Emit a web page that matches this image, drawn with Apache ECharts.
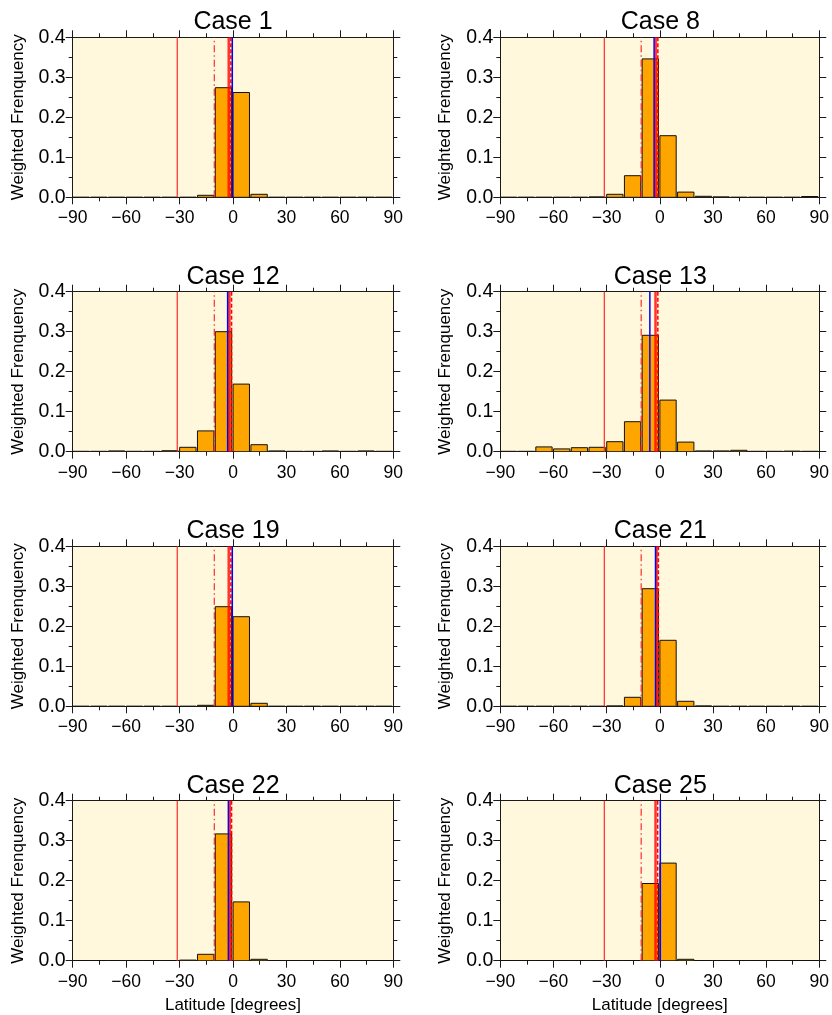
<!DOCTYPE html>
<html>
<head>
<meta charset="utf-8">
<script src="https://cdn.jsdelivr.net/npm/echarts@6/dist/echarts.min.js"></script>
<style>
html,body{margin:0;padding:0;background:#fff;}
#chart{width:832px;height:1015px;}
</style>
</head>
<body>
<div id="chart"></div>
<script>
// ---------------- DATA ----------------
const caseNames = ['Case 1','Case 8','Case 12','Case 13','Case 19','Case 21','Case 22','Case 25'];
const binStarts = [-90,-80,-70,-60,-50,-40,-30,-20,-10,0,10,20,30,40,50,60,70,80];
const binWidth = 10;
const freqCase1  = [0,0,0,0,0,0,0,0.005,0.274,0.262,0.0075,0,0,0,0,0,0,0];
const freqCase8  = [0,0,0,0,0,0.001,0.0075,0.054,0.346,0.154,0.013,0.0025,0.001,0,0,0,0,0.002];
const freqCase12 = [0.001,0.001,0.002,0.001,0.001,0.0025,0.011,0.052,0.300,0.169,0.0175,0.002,0.001,0.001,0.002,0.001,0.002,0.001];
const freqCase13 = [0.001,0.001,0.012,0.007,0.010,0.011,0.025,0.075,0.291,0.129,0.024,0.002,0.002,0.0035,0.001,0.001,0.0015,0.001];
const freqCase19 = [0,0,0,0,0,0,0,0.0025,0.249,0.224,0.0075,0,0,0,0,0,0,0];
const freqCase21 = [0,0,0,0,0,0,0.001,0.0225,0.294,0.165,0.0125,0.001,0,0,0,0,0,0];
const freqCase22 = [0,0,0,0,0,0,0.0015,0.016,0.317,0.147,0.0035,0,0,0,0,0,0,0];
const freqCase25 = [0,0,0,0,0,0,0,0,0.193,0.244,0.0035,0,0,0,0,0,0,0];
const allFreq = [freqCase1,freqCase8,freqCase12,freqCase13,freqCase19,freqCase21,freqCase22,freqCase25];
// reference vertical lines (latitude, degrees)
const refSolid   = -31.3;   // red solid
const refDashDot = -10.5;   // red dash-dot
const redSolid = [-2.4,-2.3,-2.0,-2.4,-2.4,-1.8,-1.8,-2.4];
const redDash  = [-1.2,-1.1,-0.8,-1.1,-1.2,-0.8,-0.8,-1.2];
const blueLine = [-0.4,-3.2,-3.0,-5.6,-0.4,-2.4,-2.6,0.3];
const xTicks = [-90,-60,-30,0,30,60,90];
const yTicks = [0,0.1,0.2,0.3,0.4];
const yName = 'Weighted Frenquency';
const xName = 'Latitude [degrees]';

// ---------------- LAYOUT ----------------
const colLeft = [72.7, 500.3];
const colWidth = [320.6, 320];
const rowTop = [37.3, 291.7, 546.3, 800.7];
const plotH = 160;
const FONT = 'Liberation Sans, Arial, Helvetica, sans-serif';

const grids = [], xAxes = [], yAxes = [], series = [], titles = [];
const fmtX = v => String(v).replace('-', '\u2212');
const axisLineStyle = {color:'#1a1a1a', width:1};

caseNames.forEach((name, i) => {
  const col = i % 2, row = Math.floor(i / 2);
  const left = colLeft[col], top = rowTop[row], w = colWidth[col];
  grids.push({left:left, top:top, width:w, height:plotH, show:true,
    backgroundColor:'#fff8dc', borderWidth:0, containLabel:false});
  titles.push({text:name, left:left + w/2, top:top - 27.5, textAlign:'center', padding:0,
    textStyle:{fontSize:25, fontWeight:'normal', color:'#000', fontFamily:FONT}});
  const last = row === 3;
  const xCommon = {type:'value', gridIndex:i, min:xTicks[0], max:xTicks[xTicks.length-1],
    interval:30, splitLine:{show:false},
    axisLine:{show:true, onZero:false, lineStyle:axisLineStyle},
    axisTick:{show:true, inside:false, length:7, lineStyle:axisLineStyle},
    minorTick:{show:true, splitNumber:2, length:4, lineStyle:axisLineStyle}};
  xAxes.push(Object.assign({}, xCommon, {position:'bottom',
    axisLabel:{show:true, margin:12, fontSize:17.5, color:'#000', fontFamily:FONT, formatter:fmtX},
    name: last ? xName : '', nameLocation:'middle', nameGap:36,
    nameTextStyle:{fontSize:17, color:'#000', fontFamily:FONT}}));
  xAxes.push(Object.assign({}, xCommon, {position:'top', axisLabel:{show:false}}));
  const yCommon = {type:'value', gridIndex:i, min:yTicks[0], max:yTicks[yTicks.length-1],
    interval:0.1, splitLine:{show:false},
    axisLine:{show:true, onZero:false, lineStyle:axisLineStyle},
    axisTick:{show:true, inside:false, length:7, lineStyle:axisLineStyle},
    minorTick:{show:true, splitNumber:2, length:4, lineStyle:axisLineStyle}};
  yAxes.push(Object.assign({}, yCommon, {position:'left',
    axisLabel:{show:true, margin:7, fontSize:19.5, color:'#000', fontFamily:FONT, formatter:v => v.toFixed(1)},
    name:yName, nameLocation:'middle', nameGap:46, nameRotate:90,
    nameTextStyle:{fontSize:17, color:'#000', fontFamily:FONT}}));
  yAxes.push(Object.assign({}, yCommon, {position:'right', axisLabel:{show:false}}));

  const xi = 2*i, yi = 2*i;
  // histogram bars
  series.push({type:'custom', xAxisIndex:xi, yAxisIndex:yi, clip:true, z:2,
    data: binStarts.map((b, k) => [b, allFreq[i][k]]),
    renderItem: (params, api) => {
      const lo = api.value(0), v = api.value(1);
      const p0 = api.coord([lo + 0.05, v]);
      const p1 = api.coord([lo + binWidth - 0.75, 0]);
      return {type:'rect', shape:{x:p0[0], y:p0[1], width:p1[0]-p0[0], height:p1[1]-p0[1]},
        style:{fill:'#ffa500', stroke:'#111', lineWidth:1}};
    }});
  const vline = (x, color, width, type, z) => ({type:'line', xAxisIndex:xi, yAxisIndex:yi,
    data:[[x, yTicks[0]], [x, yTicks[yTicks.length-1]]], symbol:'none', silent:true, z:z,
    lineStyle:{color:color, width:width, type:type}, animation:false});
  series.push(vline(refSolid, '#ff2a2a', 1.2, 'solid', 5));
  series.push(vline(refDashDot, '#ff2a2a', 1.2, [7,3,1.5,3], 5));
  series.push(vline(redSolid[i], 'rgba(255,0,0,0.8)', 2.5, 'solid', 5));
  series.push(vline(redDash[i], '#ff0000', 1.5, [4,2], 6));
  series.push(vline(blueLine[i], '#0000ff', 1.5, 'solid', 7));
});

const chart = echarts.init(document.getElementById('chart'), null, {renderer:'canvas'});
chart.setOption({
  animation:false,
  backgroundColor:'#ffffff',
  title:titles, grid:grids, xAxis:xAxes, yAxis:yAxes, series:series
});
</script>
</body>
</html>
